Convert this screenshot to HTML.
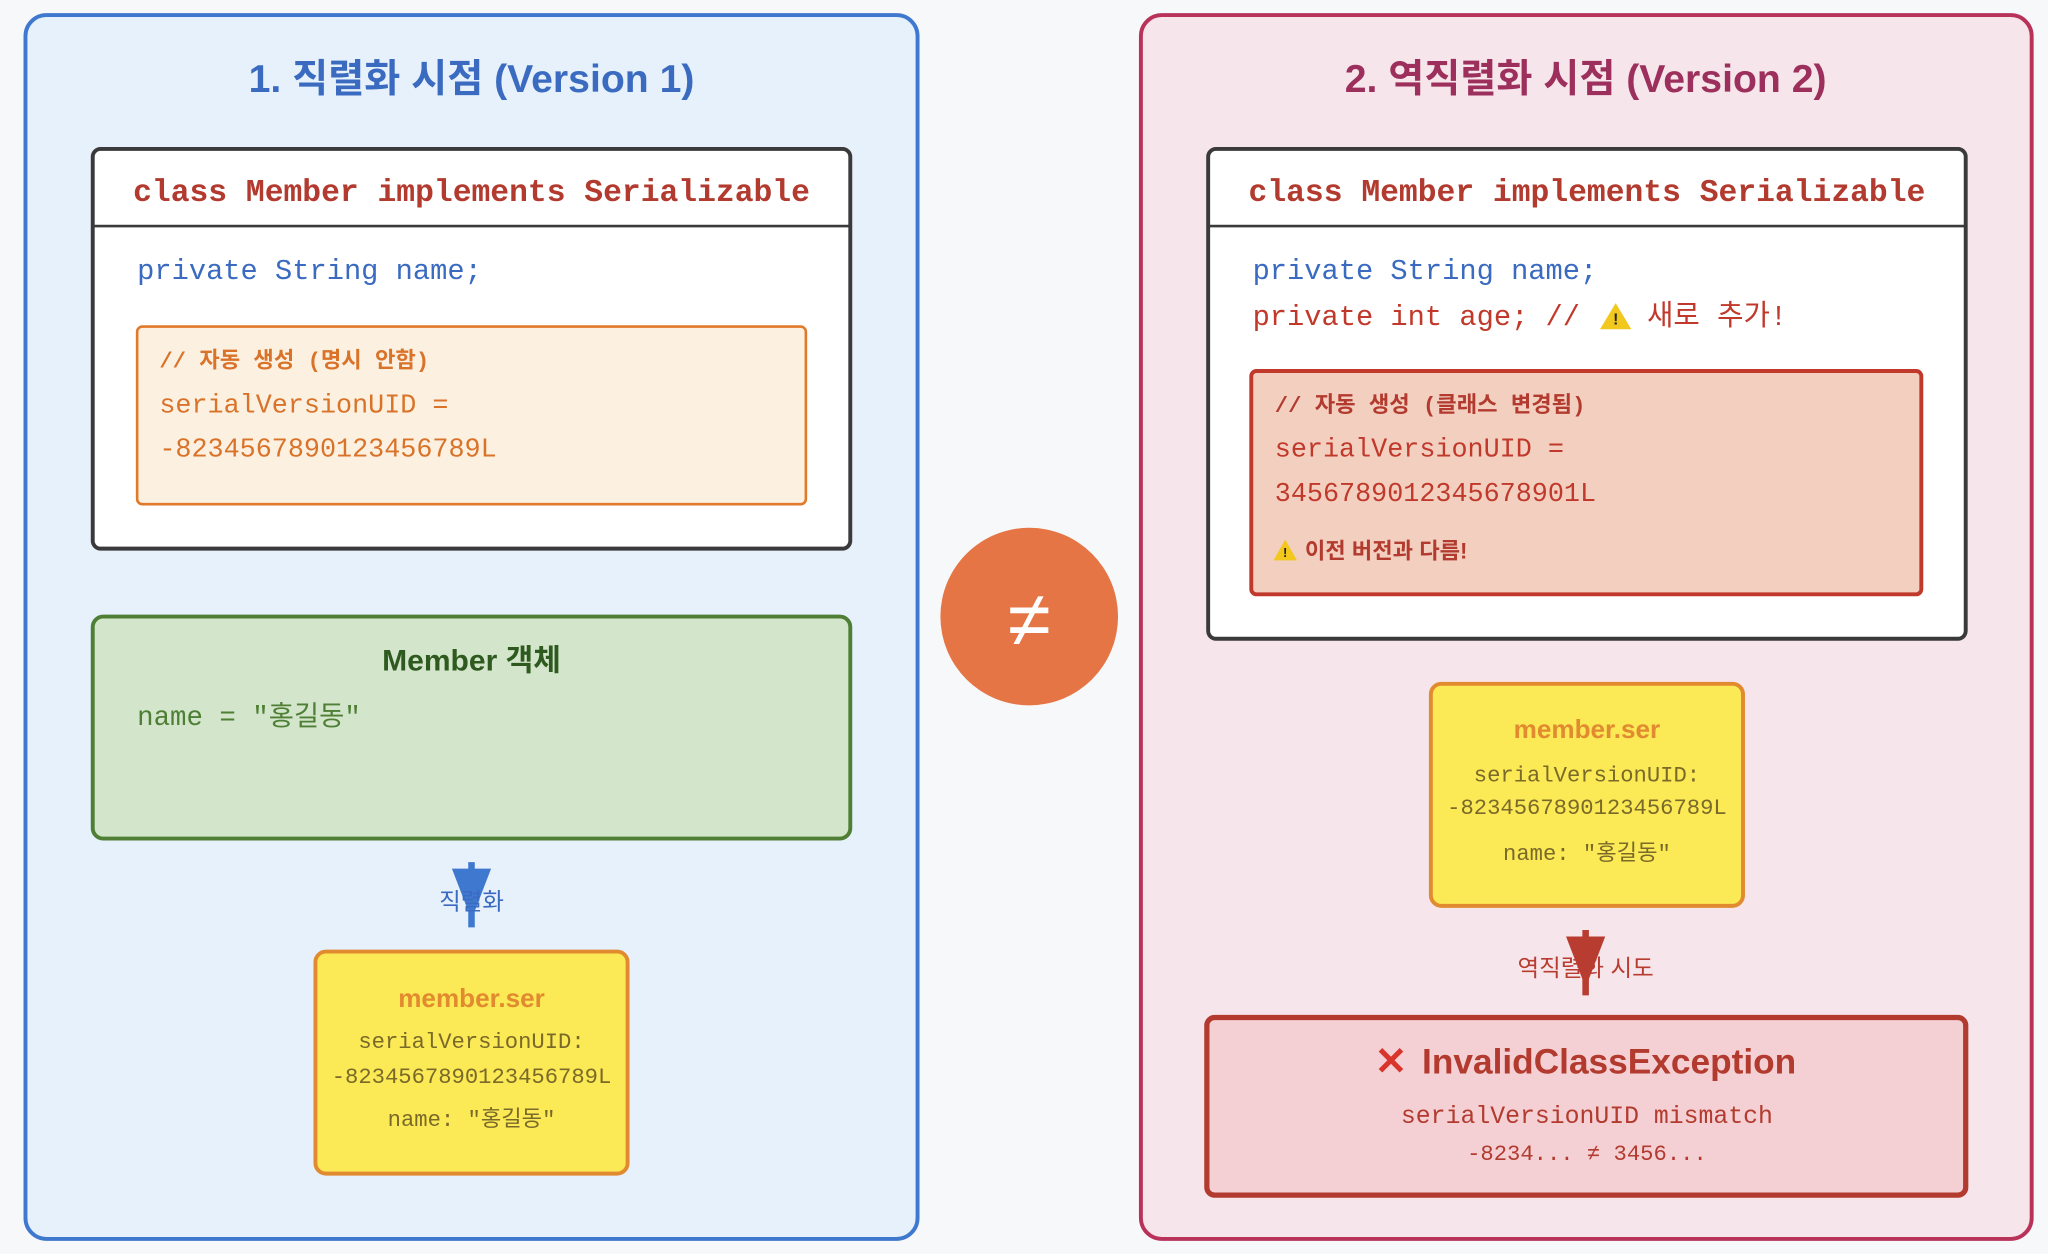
<!DOCTYPE html>
<html><head><meta charset="utf-8"><style>
html,body{margin:0;padding:0;background:#f7f8fa;}
svg{display:block;}
.s{font-family:"Liberation Sans","Noto Sans CJK KR",sans-serif;}
.m{font-family:"Liberation Mono","Noto Sans CJK KR",monospace;}
</style></head><body>
<svg width="2048" height="1254" viewBox="0 0 1568 960" xmlns="http://www.w3.org/2000/svg">
<rect width="1568" height="960" fill="#f7f8fa"/>
<g transform="translate(0,1)">
<!-- Left panel -->
<rect x="19.5" y="10.5" width="683" height="937" rx="16" fill="#e7f1fb" stroke="#3f78cf" stroke-width="3"/>
<text class="s" x="361" y="60" text-anchor="middle" dominant-baseline="central" font-size="30" font-weight="bold" fill="#3a6bc0">1. 직렬화 시점 (Version 1)</text>
<rect x="71" y="113" width="580" height="306" rx="6" fill="#fff" stroke="#3a3a3a" stroke-width="3"/>
<line x1="71" y1="172" x2="651" y2="172" stroke="#3a3a3a" stroke-width="2"/>
<text class="m" x="361" y="147" text-anchor="middle" dominant-baseline="central" font-size="24" font-weight="bold" fill="#b23a2e">class Member implements Serializable</text>
<text class="m" x="105" y="207" dominant-baseline="central" font-size="22" fill="#3a6bc0">private String name;</text>
<rect x="105" y="249" width="512" height="136" rx="4" fill="#fcf0e0" stroke="#e07a2a" stroke-width="2"/>
<text class="m" x="122" y="276" dominant-baseline="central" font-size="17" font-weight="bold" fill="#d9732a">// 자동 생성 (명시 안함)</text>
<text class="m" x="122" y="310" dominant-baseline="central" font-size="20.5" fill="#d9732a">serialVersionUID =</text>
<text class="m" x="122" y="344" dominant-baseline="central" font-size="20.5" fill="#d9732a">-8234567890123456789L</text>
<rect x="71" y="471" width="580" height="170" rx="8" fill="#d3e6cc" stroke="#4e7f35" stroke-width="3"/>
<text class="s" x="361" y="505" text-anchor="middle" dominant-baseline="central" font-size="23" font-weight="bold" fill="#2f5a1f">Member 객체</text>
<text class="m" x="105" y="549" dominant-baseline="central" font-size="21" fill="#4e7f35">name = "홍길동"</text>
<line x1="361" y1="659" x2="361" y2="709" stroke="#3f78cf" stroke-width="5"/>
<polygon points="346,664 376,664 361,703" fill="#3f78cf"/>
<text class="s" x="361" y="689" text-anchor="middle" dominant-baseline="central" font-size="18" fill="#3a6bc0">직렬화</text>
<rect x="241.5" y="727.5" width="239" height="170" rx="8" fill="#fbe955" stroke="#e28a30" stroke-width="3"/>
<text class="s" x="361" y="763" text-anchor="middle" dominant-baseline="central" font-size="20" font-weight="bold" fill="#e28a30">member.ser</text>
<text class="m" x="361" y="797" text-anchor="middle" dominant-baseline="central" font-size="17" fill="#7a6a2a">serialVersionUID:</text>
<text class="m" x="361" y="824" text-anchor="middle" dominant-baseline="central" font-size="17" fill="#7a6a2a">-8234567890123456789L</text>
<text class="m" x="361" y="857" text-anchor="middle" dominant-baseline="central" font-size="17" fill="#7a6a2a">name: "홍길동"</text>
<circle cx="788" cy="471" r="68" fill="#e67545"/>
<text class="s" x="788" y="473" text-anchor="middle" dominant-baseline="central" font-size="60" fill="#fff">≠</text>
<!-- Right panel -->
<rect x="873.5" y="10.5" width="682" height="937" rx="16" fill="#f6e5ea" stroke="#b8325a" stroke-width="3"/>
<text class="s" x="1214" y="60" text-anchor="middle" dominant-baseline="central" font-size="30" font-weight="bold" fill="#9c2f5c">2. 역직렬화 시점 (Version 2)</text>
<rect x="925" y="113" width="580" height="375" rx="6" fill="#fff" stroke="#3a3a3a" stroke-width="3"/>
<line x1="925" y1="172" x2="1505" y2="172" stroke="#3a3a3a" stroke-width="2"/>
<text class="m" x="1215" y="147" text-anchor="middle" dominant-baseline="central" font-size="24" font-weight="bold" fill="#b23a2e">class Member implements Serializable</text>
<text class="m" x="959" y="207" dominant-baseline="central" font-size="22" fill="#3a6bc0">private String name;</text>
<text class="m" x="959" y="242" dominant-baseline="central" font-size="22" fill="#c0392b">private int age; // </text>
<polygon points="1237,231 1249,251 1225,251" fill="#f2c81e"/>
<text class="s" x="1237" y="244" text-anchor="middle" dominant-baseline="central" font-size="12" font-weight="bold" fill="#222">!</text>
<text class="m" x="1261" y="242" dominant-baseline="central" font-size="22" fill="#c0392b">새로 추가!</text>
<rect x="958" y="283" width="513" height="171" rx="4" fill="#f3cfc0" stroke="#c0392b" stroke-width="3"/>
<text class="m" x="976" y="310" dominant-baseline="central" font-size="17" font-weight="bold" fill="#b23a2e">// 자동 생성 (클래스 변경됨)</text>
<text class="m" x="976" y="344" dominant-baseline="central" font-size="20.5" fill="#c0392b">serialVersionUID =</text>
<text class="m" x="976" y="378" dominant-baseline="central" font-size="20.5" fill="#c0392b">3456789012345678901L</text>
<polygon points="984,412 993,428 975,428" fill="#f2c81e"/>
<text class="s" x="984" y="422" text-anchor="middle" dominant-baseline="central" font-size="10" font-weight="bold" fill="#222">!</text>
<text class="s" x="999" y="421" dominant-baseline="central" font-size="17" font-weight="bold" fill="#b23a2e">이전 버전과 다름!</text>
<rect x="1095.5" y="522.5" width="239" height="170" rx="8" fill="#fbe955" stroke="#e28a30" stroke-width="3"/>
<text class="s" x="1215" y="557" text-anchor="middle" dominant-baseline="central" font-size="20" font-weight="bold" fill="#e28a30">member.ser</text>
<text class="m" x="1215" y="593" text-anchor="middle" dominant-baseline="central" font-size="17" fill="#7a6a2a">serialVersionUID:</text>
<text class="m" x="1215" y="618" text-anchor="middle" dominant-baseline="central" font-size="17" fill="#7a6a2a">-8234567890123456789L</text>
<text class="m" x="1215" y="653" text-anchor="middle" dominant-baseline="central" font-size="17" fill="#7a6a2a">name: "홍길동"</text>
<line x1="1214" y1="711" x2="1214" y2="761" stroke="#b83c30" stroke-width="5"/>
<polygon points="1199,716 1229,716 1214,755" fill="#b83c30"/>
<text class="s" x="1214" y="740" text-anchor="middle" dominant-baseline="central" font-size="18" fill="#b83c30">역직렬화 시도</text>
<rect x="924" y="778" width="581" height="136" rx="6" fill="#f4d0d4" stroke="#b23a2e" stroke-width="4"/>
<text class="s" x="1065" y="812" text-anchor="middle" dominant-baseline="central" font-size="30" font-weight="bold" fill="#d9342b">✕</text>
<text class="s" x="1232" y="812" text-anchor="middle" dominant-baseline="central" font-size="27" font-weight="bold" fill="#b23a2e">InvalidClassException</text>
<text class="m" x="1215" y="854" text-anchor="middle" dominant-baseline="central" font-size="19" fill="#b23a2e">serialVersionUID mismatch</text>
<text class="m" x="1215" y="883" text-anchor="middle" dominant-baseline="central" font-size="17" fill="#b23a2e">-8234... ≠ 3456...</text>
</g>
</svg>
</body></html>
